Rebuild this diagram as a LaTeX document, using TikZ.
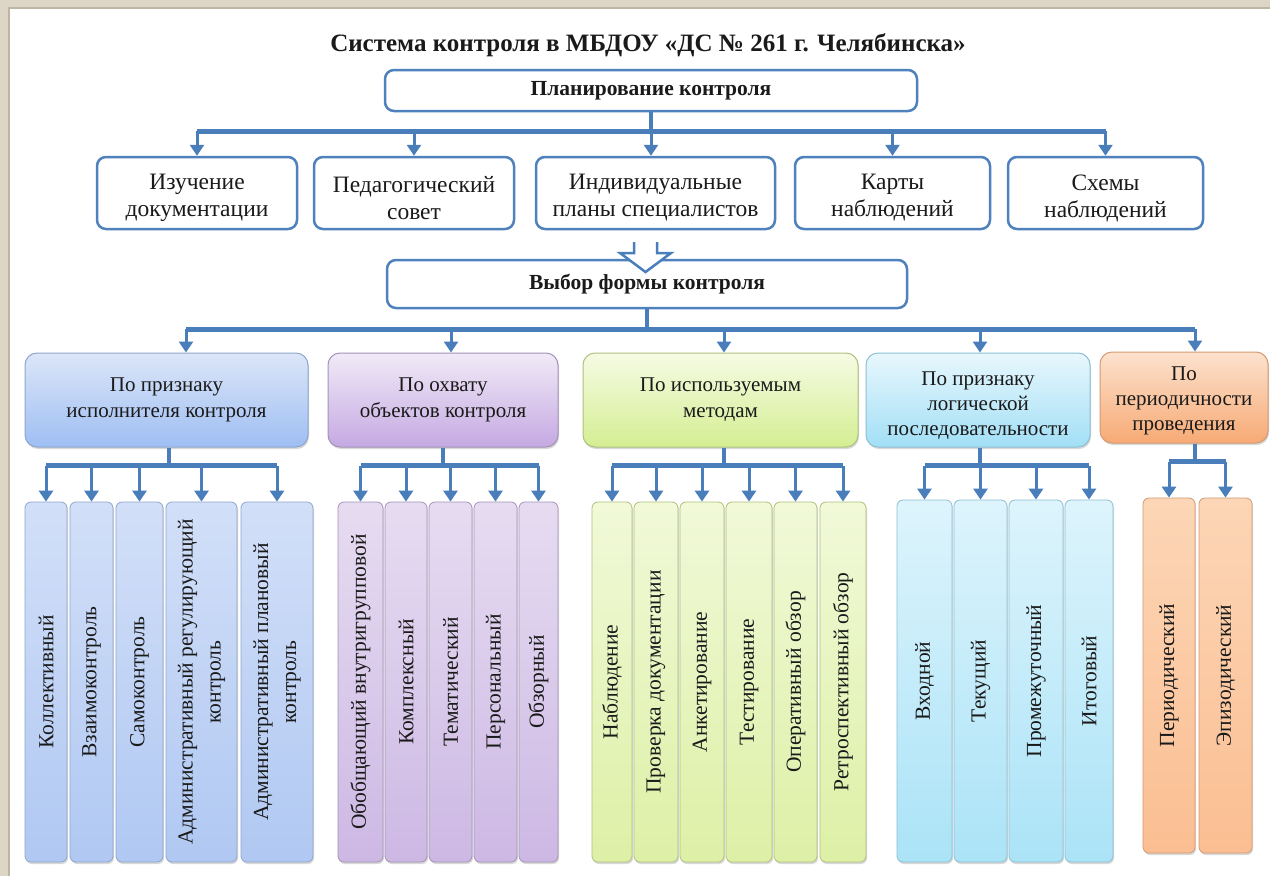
\documentclass[tikz,border=0pt]{standalone}
\usepackage{fontspec}
\setmainfont{Liberation Serif}
\usetikzlibrary{arrows.meta,shadows,calc}
\definecolor{lineblue}{HTML}{4A7EBB}
\definecolor{boxblue}{HTML}{4F81BD}
\definecolor{framec}{HTML}{DDD5C6}
\definecolor{framed}{HTML}{BDB4A4}
\definecolor{txt}{HTML}{1A1A1A}
\definecolor{ca}{HTML}{DCE6F8}\definecolor{cab}{HTML}{9EBEF3}\definecolor{cad}{HTML}{8EA6CC}
\definecolor{cb}{HTML}{F1EAF7}\definecolor{cbb}{HTML}{C5A9E2}\definecolor{cbd}{HTML}{A393B8}
\definecolor{cc}{HTML}{F6FBE4}\definecolor{ccb}{HTML}{D4EE92}\definecolor{ccd}{HTML}{AEC07D}
\definecolor{cd}{HTML}{E8F7FD}\definecolor{cdb}{HTML}{A2DFF6}\definecolor{cdd}{HTML}{8DBFD3}
\definecolor{ce}{HTML}{FCE2CE}\definecolor{ceb}{HTML}{F7AA75}\definecolor{ced}{HTML}{D29A74}
\definecolor{va}{HTML}{D2DFF8}\definecolor{vab}{HTML}{B0C8F2}
\definecolor{vb}{HTML}{E6DCF1}\definecolor{vbb}{HTML}{CDB8E4}
\definecolor{vc}{HTML}{F1F9D8}\definecolor{vcb}{HTML}{DDF0A6}
\definecolor{vd}{HTML}{DDF4FC}\definecolor{vdb}{HTML}{ABE3F7}
\definecolor{ve}{HTML}{FCD6B6}\definecolor{veb}{HTML}{FBBE92}
\newcommand\vbx[7]{%
  \node[#2, minimum width={(#4-#3)*1pt}, minimum height={(#6-#5)*1pt}] (#1) at ({(#3+#4)/2},{(#5+#6)/2}) {};
  \node[vt] (#1t) at (#1.center) {#7};}
\newcommand\wbx[5]{%
  \node[wbox, minimum width={#3*1pt}, minimum height=72pt] (#1) at (#2,193) {};
  \node[wtxt] (#1t) at ([yshift=-5pt]#1.center) {#4\\#5};}
\begin{document}
\begin{tikzpicture}[x=1pt,y=-1pt,
  every node/.style={text=txt},
  stem/.style={draw=lineblue,line width=4.5pt},
  arr/.style={draw=lineblue,line width=3pt,-{Triangle[width=14pt,length=11pt]}},
  wbox/.style={draw=boxblue,line width=2.5pt,rounded corners=9pt,fill=white,inner sep=0pt},
  wtxt/.style={inner sep=0pt,align=center,font=\fontsize{23.5}{27}\selectfont},
  hbox/.style={wbox,align=center,font=\bfseries\fontsize{21.5}{25}\selectfont},
  cbox/.style n args={3}{rounded corners=12pt,top color=#1,bottom color=#2,draw=#3,line width=1pt,inner sep=0pt,align=center,font=\fontsize{21}{26}\selectfont,drop shadow={opacity=0.3,shadow xshift=1pt,shadow yshift=-2pt}},
  vbox/.style n args={3}{rounded corners=6pt,top color=#1,bottom color=#2,draw=#3,line width=0.8pt,drop shadow={opacity=0.3,shadow xshift=1pt,shadow yshift=-2pt}},
  v1/.style={vbox={va}{vab}{cad}},
  v2/.style={vbox={vb}{vbb}{cbd}},
  v3/.style={vbox={vc}{vcb}{ccd}},
  v4/.style={vbox={vd}{vdb}{cdd}},
  v5/.style={vbox={ve}{veb}{ced}},
  vt/.style={rotate=90,inner sep=0pt,align=center,font=\fontsize{21.5}{28}\selectfont},
]
\useasboundingbox (0,0) rectangle (1270,876);
\fill[framec] (0,0) rectangle (1270,876);
\fill[framed] (8,7) rectangle (1270,876);
\fill[white] (10,9) rectangle (1270,876);

\node[font=\bfseries\fontsize{25}{29}\selectfont] (title) at (648,45) {Система контроля в МБДОУ «ДС № 261 г. Челябинска»};

\node[hbox,minimum width=532pt,minimum height=41pt] (plan) at (651,90.5) {Планирование контроля};

\wbx{izuch}{197}{200}{Изучение}{документации}
\wbx{pedsov}{414}{200}{Педагогический}{совет}
\wbx{indiv}{655.5}{239}{Индивидуальные}{планы специалистов}
\wbx{karty}{892.5}{195}{Карты}{наблюдений}
\wbx{skhemy}{1105.5}{195}{Схемы}{наблюдений}

\coordinate (bus1) at ($(plan.south)+(0,19)$);
\draw[stem] (plan.south) -- (bus1);
\draw[stem] (izuch.north |- bus1) -- (skhemy.north |- bus1);
\foreach \n in {izuch,pedsov,karty,skhemy} \draw[arr] (\n.north |- bus1) -- (\n.north);
\draw[arr] (bus1) -- (bus1 |- indiv.north);

\node[hbox,minimum width=520pt,minimum height=48pt] (vybor) at (647,284) {Выбор формы контроля};
\filldraw[draw=lineblue,fill=white,line width=2.5pt,line join=miter] (634,242) -- (634,253) -- (620,253) -- (645.5,272) -- (671,253) -- (657,253) -- (657,242);

\node[cbox={ca}{cab}{cad},minimum width=283pt,minimum height=94pt] (c1) at (166.5,400) {По признаку\\исполнителя контроля};
\node[cbox={cb}{cbb}{cbd},minimum width=230pt,minimum height=94pt] (c2) at (443,400) {По охвату\\объектов контроля};
\node[cbox={cc}{ccb}{ccd},minimum width=275pt,minimum height=94pt] (c3) at (720.5,400) {По используемым\\методам};
\node[cbox={cd}{cdb}{cdd},minimum width=224pt,minimum height=94pt] (c4) at (978,400) {};
\node[inner sep=0pt,align=center,font=\fontsize{21}{25}\selectfont] (c4t) at ([yshift=-6pt]c4.center) {По признаку\\логической\\последовательности};
\node[cbox={ce}{ceb}{ced},minimum width=168pt,minimum height=91pt] (c5) at (1184,397.5) {};
\node[inner sep=0pt,align=center,font=\fontsize{21}{25}\selectfont] (c5t) at ([yshift=-3pt]c5.center) {По\\периодичности\\проведения};

\coordinate (bus2) at ($(vybor.south)+(0,20)$);
\coordinate (a1) at ([xshift=19.5pt]c1.north);
\coordinate (a2) at ([xshift=8pt]c2.north);
\coordinate (a3) at ([xshift=3.5pt]c3.north);
\coordinate (a4) at ([xshift=2pt]c4.north);
\coordinate (a5) at ([xshift=11pt]c5.north);
\draw[stem] (vybor.south) -- (bus2);
\draw[stem] (a1 |- bus2) -- (a5 |- bus2);
\foreach \n in {a1,a2,a3,a4,a5} \draw[arr] (\n |- bus2) -- (\n);

% group 1
\vbx{b11}{v1}{25}{67}{502}{862}{Коллективный}
\vbx{b12}{v1}{70}{113}{502}{862}{Взаимоконтроль}
\vbx{b13}{v1}{116}{163}{502}{862}{Самоконтроль}
\vbx{b14}{v1}{166}{237}{502}{862}{Административный регулирующий\\контроль}
\vbx{b15}{v1}{241}{313}{502}{862}{Административный плановый\\контроль}
% group 2
\vbx{b21}{v2}{338}{383}{502}{862}{Обобщающий внутригрупповой}
\vbx{b22}{v2}{385}{427}{502}{862}{Комплексный}
\vbx{b23}{v2}{429}{472}{502}{862}{Тематический}
\vbx{b24}{v2}{474}{517}{502}{862}{Персональный}
\vbx{b25}{v2}{519}{558}{502}{862}{Обзорный}
% group 3
\vbx{b31}{v3}{592}{632}{502}{862}{Наблюдение}
\vbx{b32}{v3}{634}{678}{502}{862}{Проверка документации}
\vbx{b33}{v3}{680}{724}{502}{862}{Анкетирование}
\vbx{b34}{v3}{726}{772}{502}{862}{Тестирование}
\vbx{b35}{v3}{774}{817}{502}{862}{Оперативный обзор}
\vbx{b36}{v3}{820}{866}{502}{862}{Ретроспективный обзор}
% group 4
\vbx{b41}{v4}{897}{952}{500}{862}{Входной}
\vbx{b42}{v4}{954}{1007}{500}{862}{Текущий}
\vbx{b43}{v4}{1009}{1063}{500}{862}{Промежуточный}
\vbx{b44}{v4}{1065}{1113}{500}{862}{Итоговый}
% group 5
\vbx{b51}{v5}{1143}{1195}{498}{853}{Периодический}
\vbx{b52}{v5}{1199}{1252}{498}{853}{Эпизодический}

% group connectors
\coordinate (g1) at ($(c1.south)+(2.5,18)$);
\draw[stem] (c1.south -| g1) -- (g1);
\draw[stem] (b11.north |- g1) -- (b15.north |- g1);
\foreach \b in {b11,b12,b13,b14,b15} \draw[arr] (\b.north |- g1) -- (\b.north);

\coordinate (g2) at ($(c2.south)+(0,18)$);
\draw[stem] (c2.south) -- (g2);
\draw[stem] (b21.north |- g2) -- (b25.north |- g2);
\foreach \b in {b21,b22,b23,b24,b25} \draw[arr] (\b.north |- g2) -- (\b.north);

\coordinate (g3) at ($(c3.south)+(3.5,18)$);
\draw[stem] (c3.south -| g3) -- (g3);
\draw[stem] (b31.north |- g3) -- (b36.north |- g3);
\foreach \b in {b31,b32,b33,b34,b35,b36} \draw[arr] (\b.north |- g3) -- (\b.north);

\coordinate (g4) at ($(c4.south)+(2,18)$);
\draw[stem] (c4.south -| g4) -- (g4);
\draw[stem] (b41.north |- g4) -- (b44.north |- g4);
\foreach \b in {b41,b42,b43,b44} \draw[arr] (\b.north |- g4) -- (\b.north);

\coordinate (g5) at ($(c5.south)+(11,18)$);
\draw[stem] (c5.south -| g5) -- (g5);
\draw[stem] (b51.north |- g5) -- (b52.north |- g5);
\foreach \b in {b51,b52} \draw[arr] (\b.north |- g5) -- (\b.north);
\end{tikzpicture}
\end{document}
